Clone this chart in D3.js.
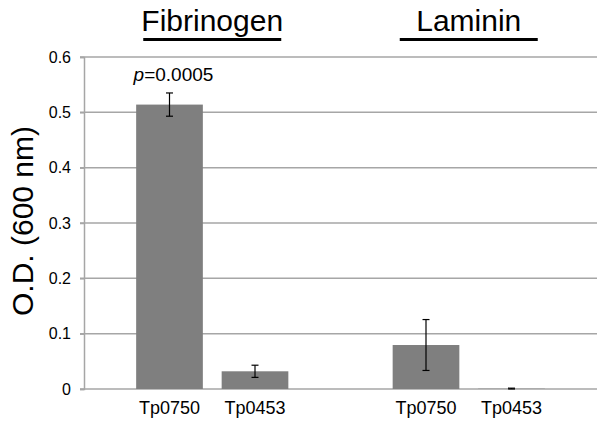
<!DOCTYPE html>
<html><head><meta charset="utf-8">
<script src="https://cdn.jsdelivr.net/npm/d3@7"></script>
<style>body{margin:0;background:#fff}svg{display:block}</style>
</head><body>
<script>
const categories = ["Fib-Tp0750","Fib-Tp0453","gap","Lam-Tp0750","Lam-Tp0453"];
const barLabels = ["Tp0750","Tp0453","Tp0750","Tp0453"];
const barKeys = ["Fib-Tp0750","Fib-Tp0453","Lam-Tp0750","Lam-Tp0453"];
const values = [0.514, 0.032, 0.0795, 0.0005];
const errors = [0.021, 0.011, 0.046, 0.001];
const groups = ["Fibrinogen","Laminin"];
const groupMembers = [["Fib-Tp0750","Fib-Tp0453"],["Lam-Tp0750","Lam-Tp0453"]];
const yTicks = [0,0.1,0.2,0.3,0.4,0.5,0.6];
const yTickLabels = ["0","0.1","0.2","0.3","0.4","0.5","0.6"];

const W=604,H=424;
const svg=d3.select("body").append("svg").attr("width",W).attr("height",H);
const font="Liberation Sans, Arial, sans-serif";
const x=d3.scaleBand().domain(categories).range([84,597]).paddingInner(0).paddingOuter(0.5);
const y=d3.scaleLinear().domain([0,0.6]).range([389,57]);
const barW=x.bandwidth()*0.78;
const cx=k=>x(k)+x.bandwidth()/2;

// gridlines
svg.append("g").selectAll("line").data(yTicks).join("line")
 .attr("x1",80).attr("x2",597).attr("y1",d=>y(d)).attr("y2",d=>y(d))
 .attr("stroke","#a6a6a6").attr("stroke-width",1.5);
// y axis
const ya=svg.append("g").attr("transform","translate(84,0)")
 .call(d3.axisLeft(y).tickValues(yTicks).tickFormat((d,i)=>yTickLabels[i]).tickSize(4).tickPadding(9))
 .attr("font-family",font).attr("font-size",16);
ya.select(".domain").attr("stroke","#a6a6a6").attr("stroke-width",1.5);
ya.selectAll(".tick line").attr("stroke","#a6a6a6").attr("stroke-width",1.5);
ya.selectAll(".tick text").attr("fill","#000");

// bars
svg.append("g").selectAll("rect").data(barKeys).join("rect")
 .attr("x",k=>cx(k)-barW/2).attr("width",barW)
 .attr("y",(k,i)=>y(values[i])).attr("height",(k,i)=>y(0)-y(values[i]))
 .attr("fill","#7f7f7f");
// error bars
const eb=svg.append("g").attr("stroke","#000").attr("stroke-width",1.2);
barKeys.forEach((k,i)=>{
  const c=cx(k), t=y(values[i]+errors[i]), b=y(Math.max(0,values[i]-errors[i]));
  eb.append("line").attr("x1",c).attr("x2",c).attr("y1",t).attr("y2",b);
  eb.append("line").attr("x1",c-3.5).attr("x2",c+3.5).attr("y1",t).attr("y2",t);
  eb.append("line").attr("x1",c-3.5).attr("x2",c+3.5).attr("y1",b).attr("y2",b);
});
// x labels
svg.append("g").selectAll("text").data(barKeys).join("text")
 .attr("x",k=>cx(k)).attr("y",414).attr("text-anchor","middle")
 .attr("font-family",font).attr("font-size",18).text((k,i)=>barLabels[i]);

// group titles
groups.forEach((g,i)=>{
  const m=(cx(groupMembers[i][0])+cx(groupMembers[i][1]))/2;
  svg.append("text").attr("x",m).attr("y",31).attr("text-anchor","middle")
   .attr("font-family",font).attr("font-size",30).text(g);
  svg.append("line").attr("x1",m-69).attr("x2",m+69).attr("y1",39.5).attr("y2",39.5)
   .attr("stroke","#000").attr("stroke-width",3);
});

// p value
const pt=svg.append("text").attr("x",cx("Fib-Tp0750")+4).attr("y",81).attr("text-anchor","middle")
 .attr("font-family",font).attr("font-size",19);
pt.append("tspan").attr("font-style","italic").text("p");
pt.append("tspan").text("=0.0005");

// y title
svg.append("text").attr("transform","translate(33,221) rotate(-90)")
 .attr("text-anchor","middle").attr("font-family",font).attr("font-size",30).text("O.D. (600 nm)");
</script>
</body></html>
